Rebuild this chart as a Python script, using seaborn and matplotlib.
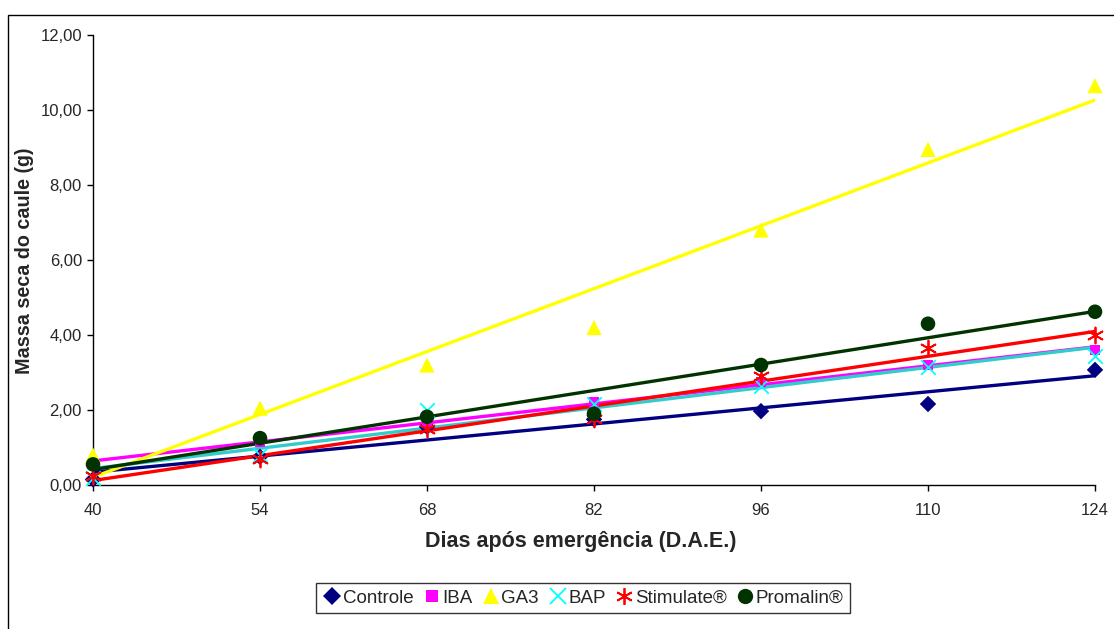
import matplotlib
matplotlib.use("Agg")
import matplotlib.pyplot as plt
from matplotlib.lines import Line2D
from matplotlib.patches import Rectangle
from matplotlib.ticker import FuncFormatter
import seaborn as sns
import pandas as pd

# Days after emergence
dias = [40, 54, 68, 82, 96, 110, 124]

# Stem dry mass (g) per treatment
controle = [0.15, 0.75, 1.55, 1.75, 1.97, 2.16, 3.07]
iba = [0.60, 1.15, 1.65, 2.20, 2.75, 3.20, 3.60]
ga3 = [0.80, 2.05, 3.20, 4.20, 6.80, 8.95, 10.65]
bap = [0.20, 0.80, 2.00, 2.15, 2.65, 3.15, 3.45]
stimulate = [0.25, 0.70, 1.50, 1.75, 2.90, 3.65, 4.00]
promalin = [0.55, 1.25, 1.82, 1.90, 3.20, 4.30, 4.62]

tratamentos = ["Controle", "IBA", "GA3", "BAP", "Stimulate®", "Promalin®"]
valores = [controle, iba, ga3, bap, stimulate, promalin]

df = pd.DataFrame(
    [(t, d, v) for t, serie in zip(tratamentos, valores) for d, v in zip(dias, serie)],
    columns=["tratamento", "dias", "massa"],
)

estilos = {
    "Controle": dict(color="#000080", line="#000080", marker="D", ms=70, lw=0, lms=9),
    "IBA": dict(color="#FF00FF", line="#FF00FF", marker="s", ms=55, lw=0, lms=8),
    "GA3": dict(color="#FFFF00", line="#FFFF00", marker="^", ms=120, lw=0, lms=12),
    "BAP": dict(color="#00FFFF", line="#33CCCC", marker="x", ms=110, lw=1.3, lms=12),
    "Stimulate®": dict(color="#FF0000", line="#FF0000", marker=(6, 2, 0), ms=130, lw=1.3, lms=12),
    "Promalin®": dict(color="#003300", line="#003300", marker="o", ms=110, lw=0, lms=11),
}

sns.set_style("ticks")
plt.rcParams["font.family"] = ["Liberation Sans", "DejaVu Sans"]

fig = plt.figure(figsize=(11.14, 6.29), dpi=100)
ax = fig.add_axes([93 / 1114, 1 - 485 / 629, 1002 / 1114, 450 / 629])

# regression lines first, markers on top
for t in tratamentos:
    s = estilos[t]
    sub = df[df["tratamento"] == t]
    sns.regplot(data=sub, x="dias", y="massa", ax=ax, ci=None, scatter=False,
                line_kws=dict(color=s["line"], lw=2.4, zorder=2))
for t in tratamentos:
    s = estilos[t]
    sub = df[df["tratamento"] == t]
    kw = dict(s=s["ms"], marker=s["marker"], color=s["color"], zorder=3, clip_on=False)
    if s["lw"]:
        kw["linewidths"] = s["lw"]
    else:
        kw["edgecolor"] = "none"
    sns.scatterplot(data=sub, x="dias", y="massa", ax=ax, legend=False, **kw)

ax.set_xlim(40, 124)
ax.set_ylim(0, 12)
ax.set_xticks(dias)
ax.set_yticks(range(0, 13, 2))
ax.yaxis.set_major_formatter(FuncFormatter(lambda v, p: f"{v:.2f}".replace(".", ",")))
ax.tick_params(axis="both", labelsize=12, length=4, width=1, color="#000000", direction="out")
ax.tick_params(axis="x", pad=9)
ax.tick_params(axis="y", pad=4)
for side in ("top", "right"):
    ax.spines[side].set_visible(False)
for side in ("left", "bottom"):
    ax.spines[side].set_color("#000000")
    ax.spines[side].set_linewidth(1)

ax.set_xlabel("Dias após emergência (D.A.E.)", fontsize=15.5, fontweight="bold")
ax.set_ylabel("Massa seca do caule (g)", fontsize=14.2, fontweight="bold")
ax.xaxis.set_label_coords((581 - 93) / 1002, -(541 - 485) / 450, transform=ax.transAxes)
ax.xaxis.label.set_va("center")
ax.yaxis.set_label_coords(-(93 - 25) / 1002, (485 - 261) / 450, transform=ax.transAxes)
ax.yaxis.label.set_va("center")

handles = []
for t in tratamentos:
    s = estilos[t]
    handles.append(Line2D([], [], linestyle="none", marker=s["marker"], color=s["color"],
                          markersize=s["lms"], markeredgewidth=s["lw"] if s["lw"] else 0))
leg = fig.legend(handles, tratamentos, loc="center", bbox_to_anchor=(583 / 1114, 1 - 598 / 629),
                 ncol=6, fontsize=13.5, frameon=True, fancybox=False, edgecolor="#000000",
                 handletextpad=0.05, columnspacing=0.5, handlelength=1.0, borderpad=0.35)
leg.get_frame().set_linewidth(1)

# outer chart border
fig.patches.append(Rectangle((8 / 1114, -0.05), 1.2, 1 - 15 / 629 + 0.05, transform=fig.transFigure,
                             fill=False, edgecolor="#000000", linewidth=1, zorder=0))

fig.savefig("out.png", dpi=100)
